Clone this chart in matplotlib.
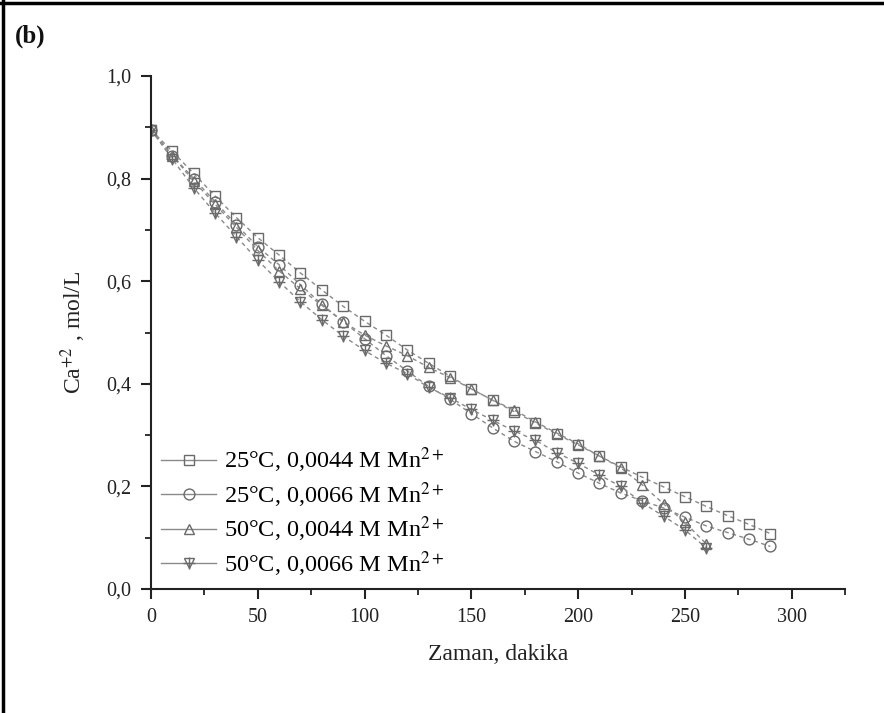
import numpy as np
import matplotlib
matplotlib.use("Agg")
import matplotlib.pyplot as plt
from matplotlib.lines import Line2D
from matplotlib.ticker import MultipleLocator, FuncFormatter

plt.rcParams["font.family"] = ["Liberation Serif", "DejaVu Serif"]
plt.rcParams["mathtext.fontset"] = "stix"

# time, minutes
t_long = [0, 10, 20, 30, 40, 50, 60, 70, 80, 90, 100, 110, 120, 130, 140,
          150, 160, 170, 180, 190, 200, 210, 220, 230, 240, 250, 260, 270, 280, 290]
t_short = t_long[:27]

# Ca2+ concentration, mol/L
sq_25_44 = [0.895, 0.853, 0.810, 0.766, 0.724, 0.685, 0.651, 0.616, 0.583, 0.551,
            0.522, 0.495, 0.466, 0.440, 0.415, 0.390, 0.368, 0.346, 0.324, 0.302,
            0.281, 0.259, 0.238, 0.218, 0.199, 0.180, 0.161, 0.143, 0.126, 0.108]
ci_25_66 = [0.895, 0.845, 0.800, 0.755, 0.710, 0.667, 0.632, 0.593, 0.555, 0.521,
            0.488, 0.455, 0.425, 0.395, 0.370, 0.342, 0.314, 0.288, 0.268, 0.248,
            0.226, 0.206, 0.187, 0.172, 0.158, 0.140, 0.123, 0.110, 0.097, 0.083]
tr_50_44 = [0.895, 0.845, 0.795, 0.750, 0.705, 0.660, 0.620, 0.585, 0.553, 0.521,
            0.495, 0.474, 0.455, 0.432, 0.412, 0.390, 0.368, 0.349, 0.326, 0.304,
            0.283, 0.259, 0.236, 0.203, 0.166, 0.130, 0.088]
st_50_66 = [0.895, 0.838, 0.782, 0.733, 0.687, 0.641, 0.599, 0.560, 0.525, 0.493,
            0.465, 0.440, 0.420, 0.393, 0.373, 0.350, 0.329, 0.308, 0.290, 0.266,
            0.245, 0.222, 0.200, 0.168, 0.142, 0.115, 0.080]

labels = [r"25°C, 0,0044 M Mn$^{2+}$", r"25°C, 0,0066 M Mn$^{2+}$",
          r"50°C, 0,0044 M Mn$^{2+}$", r"50°C, 0,0066 M Mn$^{2+}$"]

fig = plt.figure(figsize=(8.84, 7.13), dpi=100)
ax = fig.add_axes([0.1708, 0.1739, 0.7852, 0.7195])

lc = "#8a8a8a"
mc = "#6a6a6a"
ms = 7.8
kw = dict(color=lc, lw=1.0, ls=(0, (3, 2.5)), mfc="none", mec=mc, mew=1.0, ms=ms)

ax.plot(t_long, sq_25_44, marker="s", **kw)
ax.plot(t_long, ci_25_66, marker="o", **kw)
ax.plot(t_short, tr_50_44, marker="^", **kw)
ax.plot(t_short, st_50_66, marker="v", **kw)
ax.plot(t_short, st_50_66, marker="+", ls="none", mec=mc, mew=1.0, ms=ms + 1)

ax.set_xlim(0, 325)
ax.set_ylim(0, 1.0)
ax.xaxis.set_major_locator(MultipleLocator(50))
ax.xaxis.set_minor_locator(MultipleLocator(25))
ax.yaxis.set_major_locator(MultipleLocator(0.2))
ax.yaxis.set_minor_locator(MultipleLocator(0.1))
ax.yaxis.set_major_formatter(FuncFormatter(lambda v, p: f"{v:.1f}".replace(".", ",")))

for s in ["top", "right"]:
    ax.spines[s].set_visible(False)
for s in ["left", "bottom"]:
    ax.spines[s].set_linewidth(1.5)
    ax.spines[s].set_color("#222222")
ax.tick_params(which="major", direction="out", length=7, width=1.5,
               labelsize=14.5, colors="#222222", pad=7)
ax.tick_params(which="minor", direction="out", length=4, width=1.3, colors="#222222")

ax.set_xlabel("Zaman, dakika", fontsize=17, labelpad=12, color="#222222")
ax.set_ylabel(r"Ca$^{+2}$ , mol/L", fontsize=17, labelpad=13, color="#222222")

# legend
lkw = dict(color=lc, lw=1.0, mfc="none", mec=mc, mew=1.0, ms=ms)
h1 = Line2D([], [], marker="s", **lkw)
h2 = Line2D([], [], marker="o", **lkw)
h3 = Line2D([], [], marker="^", **lkw)
h4a = Line2D([], [], marker="v", **lkw)
h4b = Line2D([], [], marker="+", ls="none", mec=mc, mew=1.0, ms=ms + 1)
ax.legend([h1, h2, h3, (h4a, h4b)], labels, loc="lower left",
          bbox_to_anchor=(0.0, 0.0), frameon=False, fontsize=17.5,
          handlelength=2.25, handletextpad=0.33, labelspacing=0.2,
          borderaxespad=0.28, borderpad=0.15)

fig.text(0.017, 0.94, "(b)", fontsize=18, fontweight="bold", color="#111111")

# page border (top and left)
fig.add_artist(Line2D([0, 1], [0.996, 0.996], transform=fig.transFigure, color="black", lw=2.5))
fig.add_artist(Line2D([0.003, 0.003], [0, 1], transform=fig.transFigure, color="black", lw=2.5))

fig.savefig("out.png", dpi=100)
